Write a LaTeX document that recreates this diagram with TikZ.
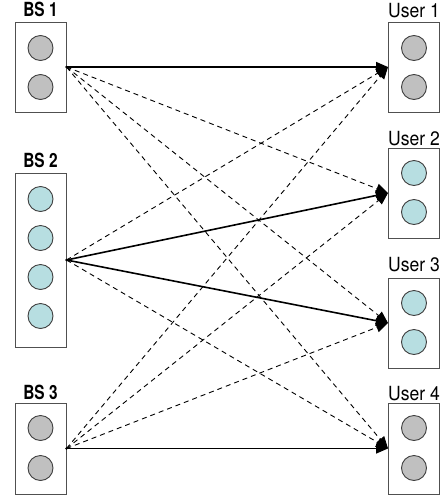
\documentclass[tikz,border=0pt]{standalone}
\usepackage{fontspec}
\setmainfont{TeX Gyre Heros}
\newfontfamily\lblbold[FakeStretch=0.79]{TeX Gyre Heros Bold}
\newfontfamily\lblreg[FakeStretch=0.9]{TeX Gyre Heros}
\usetikzlibrary{arrows.meta}
\definecolor{antgray}{RGB}{192,192,192}
\definecolor{antcyan}{RGB}{183,222,225}
\definecolor{edgegray}{RGB}{80,80,80}
\tikzset{
  station/.style={draw=edgegray, line width=1pt, fill=white, minimum width=51pt, inner sep=0pt},
  antenna/.style={circle, draw=black!75, line width=0.9pt, minimum size=25pt, inner sep=0pt},
  bslabel/.style={anchor=base, font=\lblbold\fontsize{19.5}{20}\selectfont, inner sep=0pt},
  userlabel/.style={anchor=base, font=\lblreg\fontsize{19.5}{20}\selectfont, inner sep=0pt},
  strong/.style={line width=1.6pt, -{Triangle[length=12pt,width=10pt]}},
  weak/.style={line width=0.9pt, dash pattern=on 5pt off 4pt, -{Triangle[length=12pt,width=10pt]}},
}
\begin{document}
\begin{tikzpicture}[x=1pt,y=-1pt]
\useasboundingbox (0,0) rectangle (442,499);

% base stations
\node[station, minimum height=90pt]  (bs1) at (40.5,67) {};
\node[station, minimum height=174pt] (bs2) at (40.5,260) {};
\node[station, minimum height=91pt]  (bs3) at (40.5,448.5) {};
% users
\node[station, minimum height=90pt]  (u1) at (414,67) {};
\node[station, minimum height=90pt]  (u2) at (414,193) {};
\node[station, minimum height=90pt]  (u3) at (414,323) {};
\node[station, minimum height=91pt]  (u4) at (414,448.5) {};

% labels
\node[bslabel]   (lbs1) at (40.5,16) {BS 1};
\node[bslabel]   (lbs2) at (40.5,167) {BS 2};
\node[bslabel]   (lbs3) at (40.5,399) {BS 3};
\node[userlabel] (lu1) at (414,17) {User 1};
\node[userlabel] (lu2) at (414,145) {User 2};
\node[userlabel] (lu3) at (414,271) {User 3};
\node[userlabel] (lu4) at (414,400) {User 4};

% antennas
\node[antenna, fill=antgray] (a11) at (40.5,48) {};
\node[antenna, fill=antgray] (a12) at (40.5,87) {};
\node[antenna, fill=antcyan] (a21) at (40.5,199) {};
\node[antenna, fill=antcyan] (a22) at (40.5,238) {};
\node[antenna, fill=antcyan] (a23) at (40.5,277) {};
\node[antenna, fill=antcyan] (a24) at (40.5,316) {};
\node[antenna, fill=antgray] (a31) at (40.5,428) {};
\node[antenna, fill=antgray] (a32) at (40.5,468) {};
\node[antenna, fill=antgray] (b11) at (414,48) {};
\node[antenna, fill=antgray] (b12) at (414,87) {};
\node[antenna, fill=antcyan] (b21) at (414,173) {};
\node[antenna, fill=antcyan] (b22) at (414,212) {};
\node[antenna, fill=antcyan] (b31) at (414,303) {};
\node[antenna, fill=antcyan] (b32) at (414,342) {};
\node[antenna, fill=antgray] (b41) at (414,428) {};
\node[antenna, fill=antgray] (b42) at (414,468) {};

% interference links
\draw[weak] (bs1.east) -- (u2.west);
\draw[weak] (bs1.east) -- (u3.west);
\draw[weak] (bs1.east) -- (u4.west);
\draw[weak] (bs2.east) -- (u1.west);
\draw[weak] (bs2.east) -- (u4.west);
\draw[weak] (bs3.east) -- (u1.west);
\draw[weak] (bs3.east) -- (u2.west);
\draw[weak] (bs3.east) -- (u3.west);
% serving links
\draw[strong] (bs1.east) -- (u1.west);
\draw[strong] (bs2.east) -- (u2.west);
\draw[strong] (bs2.east) -- (u3.west);
\draw[strong] (bs3.east) -- (u4.west);

% link origins
\fill (bs1.east) circle (1.3pt);
\fill (bs2.east) circle (1.3pt);
\fill (bs3.east) circle (1.3pt);
\end{tikzpicture}
\end{document}
